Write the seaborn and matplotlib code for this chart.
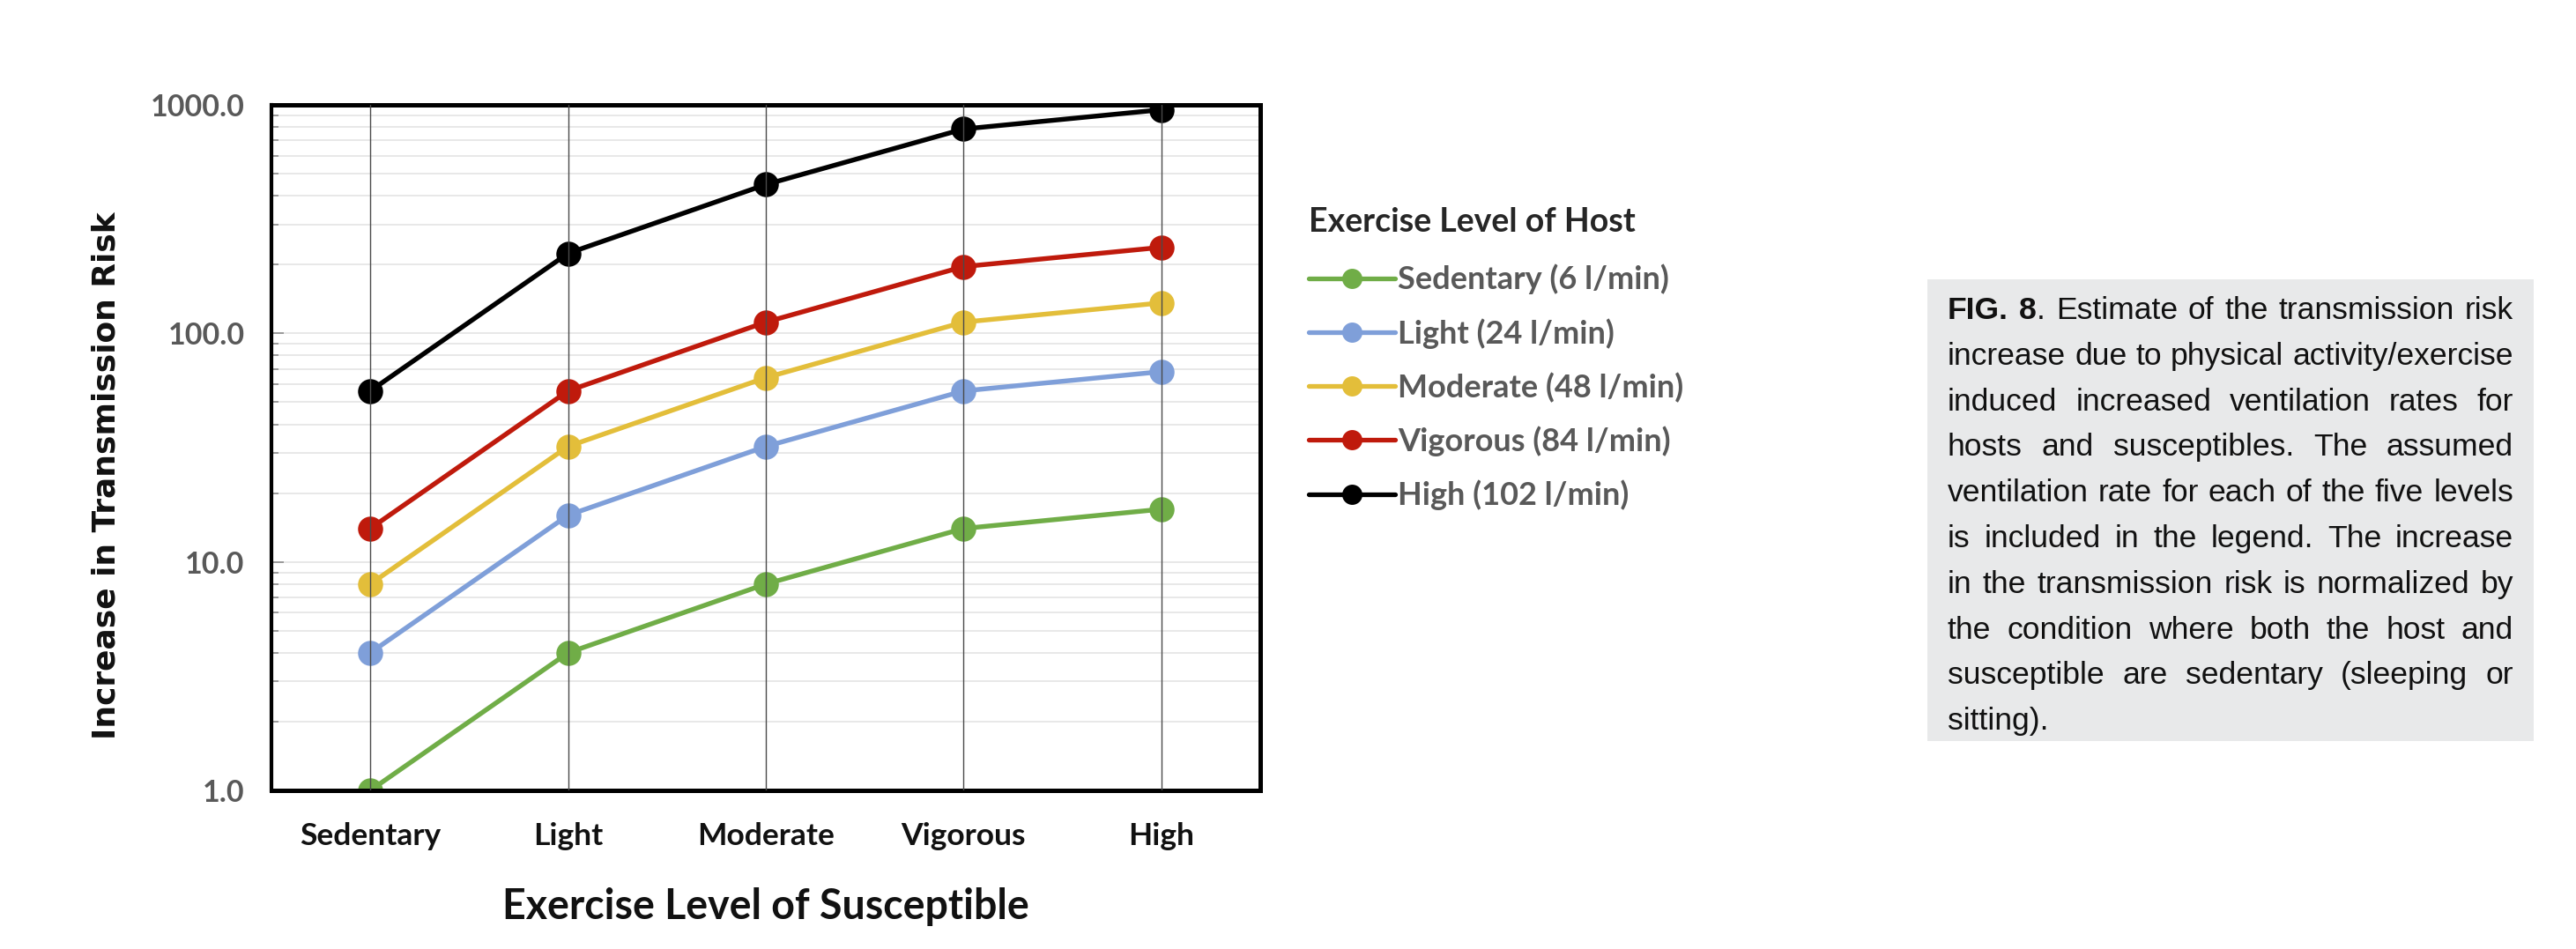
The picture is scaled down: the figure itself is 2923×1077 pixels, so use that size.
import numpy as np
import pandas as pd
import matplotlib
matplotlib.use("Agg")
import matplotlib.pyplot as plt
import seaborn as sns
from matplotlib import font_manager
from matplotlib.lines import Line2D
from matplotlib.patches import Rectangle
from matplotlib.ticker import FixedLocator, LogLocator, NullFormatter, FixedFormatter

# ---------------- data ----------------
susceptible_levels = ["Sedentary", "Light", "Moderate", "Vigorous", "High"]
host_levels = ["Sedentary (6 l/min)", "Light (24 l/min)", "Moderate (48 l/min)",
               "Vigorous (84 l/min)", "High (102 l/min)"]
risk_host_sedentary = [1.0, 4.0, 8.0, 14.0, 17.0]
risk_host_light = [4.0, 16.0, 32.0, 56.0, 68.0]
risk_host_moderate = [8.0, 32.0, 64.0, 112.0, 136.0]
risk_host_vigorous = [14.0, 56.0, 112.0, 196.0, 238.0]
risk_host_high = [56.0, 224.0, 448.0, 784.0, 952.0]
host_colors = ["#70AD47", "#7F9FD9", "#E3BE3A", "#BF1A0C", "#000000"]
y_tick_values = [1, 10, 100, 1000]
y_tick_labels = ["1.0", "10.0", "100.0", "1000.0"]
x_label = "Exercise Level of Susceptible"
y_label = "Increase in Transmission Risk"
legend_title = "Exercise Level of Host"
caption_lines = [
    "FIG. 8. Estimate of the transmission risk",
    "increase due to physical activity/exercise",
    "induced increased ventilation rates for",
    "hosts and susceptibles. The assumed",
    "ventilation rate for each of the five levels",
    "is included in the legend. The increase",
    "in the transmission risk is normalized by",
    "the condition where both the host and",
    "susceptible are sedentary (sleeping or",
    "sitting).",
]

all_series = [risk_host_sedentary, risk_host_light, risk_host_moderate,
              risk_host_vigorous, risk_host_high]
rows = []
for host, vals in zip(host_levels, all_series):
    for s, v in zip(susceptible_levels, vals):
        rows.append({"susceptible": s, "risk": v, "host": host})
df = pd.DataFrame(rows)

# ---------------- figure ----------------
W, H = 2923, 1077
sns.set_style("white")
plt.rcParams["font.family"] = ["Lato", "DejaVu Sans"]
fig = plt.figure(figsize=(W / 100, H / 100), dpi=100)
fig.patch.set_facecolor("white")

ax_l, ax_r, ax_t, ax_b = 308, 1430, 119, 897
ax = fig.add_axes([ax_l / W, 1 - ax_b / H, (ax_r - ax_l) / W, (ax_b - ax_t) / H])

sns.lineplot(data=df, x="susceptible", y="risk", hue="host", hue_order=host_levels,
             palette=host_colors, marker="o", markersize=20.5, markeredgewidth=0,
             linewidth=3.9, sort=False, legend=False, ax=ax)

ax.set_yscale("log")
ax.set_ylim(1, 1000)
ax.set_xlim(-0.5, len(susceptible_levels) - 0.5)

ax.yaxis.set_major_locator(FixedLocator(y_tick_values))
ax.yaxis.set_major_formatter(FixedFormatter(y_tick_labels))
ax.yaxis.set_minor_locator(LogLocator(base=10, subs=np.arange(2, 10)))
ax.yaxis.set_minor_formatter(NullFormatter())
ax.set_xticks(range(len(susceptible_levels)))
ax.set_xticklabels(susceptible_levels)

ax.grid(False)
ax.yaxis.grid(True, which="both", color="#e8e8e8", lw=1.4)
ax.xaxis.grid(True, which="major", color="#4a4a4a", lw=1.0)
ax.set_axisbelow(True)
ax.xaxis.set_zorder(4)

ax.tick_params(axis="y", which="both", direction="in", color="#8c8c8c", width=1.2,
               left=True)
ax.tick_params(axis="y", which="major", length=10, pad=22, labelsize=24.5,
               labelcolor="#595959")
ax.tick_params(axis="y", which="minor", length=6)
ax.tick_params(axis="x", which="both", length=0, pad=26, labelsize=25.5,
               labelcolor="#111111")
for lab in ax.get_yticklabels() + ax.get_xticklabels():
    lab.set_fontweight("bold")

for side in ["top", "right", "bottom", "left"]:
    ax.spines[side].set_visible(True)
    ax.spines[side].set_color("black")
    ax.spines[side].set_linewidth(3.6)
ax.spines["left"].set_linewidth(3.0)

ax.set_xlabel(x_label, fontsize=33.5, fontweight="bold", color="#111111")
ax.xaxis.label.set_va("center")
ax.xaxis.set_label_coords(0.5, (1077 - 1029 - (1077 - ax_b)) / (ax_b - ax_t))
ax.set_ylabel(y_label, fontsize=25.9, fontweight="bold", color="#111111",
              family=["DejaVu Sans"])
ax.yaxis.label.set_va("center")
ax.yaxis.set_label_coords((121 - ax_l) / (ax_r - ax_l), (ax_b - 540) / (ax_b - ax_t))

# ---------------- legend ----------------
handles = [Line2D([], [], color=c, marker="o", markersize=16.5, markeredgewidth=0,
                  lw=3.8) for c in host_colors]
leg = fig.legend(handles, host_levels, loc="upper left",
                 bbox_to_anchor=(1467 / W, 1 - 217 / H), frameon=False,
                 title=legend_title, alignment="left", borderpad=0,
                 handlelength=2.7, handletextpad=0.1, labelspacing=0.74,
                 prop=dict(family="Lato", weight="bold", size=26),
                 title_fontproperties=dict(family="Lato", weight="bold", size=27),
                 labelcolor="#595959")
leg._legend_box.sep = 22

# ---------------- caption ----------------
def has_font(name):
    try:
        font_manager.findfont(font_manager.FontProperties(family=name),
                              fallback_to_default=False)
        return True
    except Exception:
        return False

cap_family = "Liberation Sans Narrow" if has_font("Liberation Sans Narrow") else "Liberation Sans"

box_l, box_r, box_t, box_b = 2187, 2875, 317, 841
fig.patches.append(Rectangle((box_l / W, 1 - box_b / H), (box_r - box_l) / W,
                             (box_b - box_t) / H, transform=fig.transFigure,
                             facecolor="#e8e9ea", edgecolor="none", zorder=0))

fig.canvas.draw()
renderer = fig.canvas.get_renderer()

def fp(size, weight):
    return font_manager.FontProperties(family=cap_family, weight=weight, size=size)

def text_w(s, prop):
    t = fig.text(0, 0, s, fontproperties=prop)
    w = t.get_window_extent(renderer).width
    t.remove()
    return w

def line_words(i, line):
    words = line.split(" ")
    out = []
    for j, wd in enumerate(words):
        if i == 0 and j == 0:
            out.append([(wd, "bold")])
        elif i == 0 and j == 1:
            out.append([(wd[:-1], "bold"), (wd[-1], "normal")])
        else:
            out.append([(wd, "normal")])
    return out

text_l, text_r = 2210, 2852
avail = text_r - text_l
base = 22.0
nat = []
for i, line in enumerate(caption_lines[:-1]):
    words = line_words(i, line)
    ww = sum(text_w(s, fp(base, w)) for word in words for s, w in word)
    sp = text_w("a a", fp(base, "normal")) - text_w("aa", fp(base, "normal"))
    nat.append(ww + sp * (len(words) - 1))
size = base * avail / max(nat) * 0.995

space_w = text_w("a a", fp(size, "normal")) - text_w("aa", fp(size, "normal"))
baseline0 = 362
line_gap = 51.8
for i, line in enumerate(caption_lines):
    words = line_words(i, line)
    widths = [[text_w(s, fp(size, w)) for s, w in word] for word in words]
    total = sum(sum(wl) for wl in widths)
    if i < len(caption_lines) - 1 and len(words) > 1:
        gap = (avail - total) / (len(words) - 1)
    else:
        gap = space_w
    x = text_l
    y = 1 - (baseline0 + i * line_gap) / H
    for word, wl in zip(words, widths):
        for (s, w), sw in zip(word, wl):
            fig.text(x / W, y, s, fontproperties=fp(size, w), color="#111111",
                     ha="left", va="baseline")
            x += sw
        x += gap

fig.savefig("out.png", dpi=100, facecolor="white")
